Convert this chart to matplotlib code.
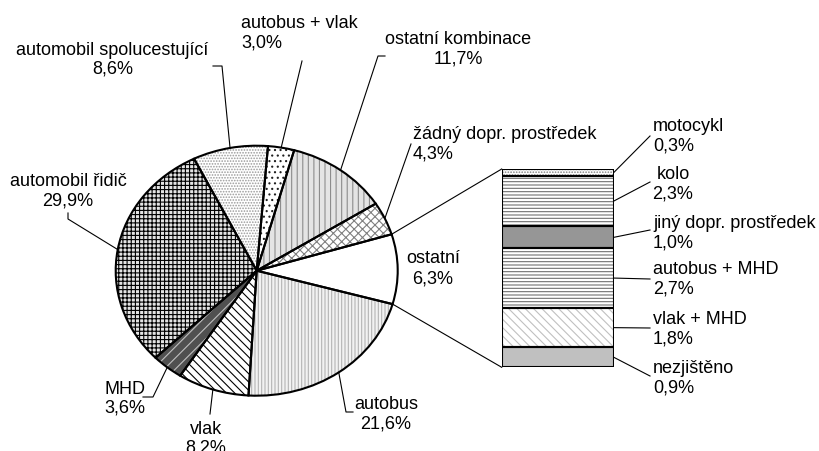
import matplotlib
matplotlib.use("Agg")
import matplotlib.pyplot as plt
import numpy as np

plt.rcParams['font.family'] = ['Liberation Sans', 'DejaVu Sans']
plt.rcParams['hatch.linewidth'] = 0.8

# ---- data ----
pie_labels = ['ostatní', 'žádný dopr. prostředek', 'ostatní kombinace', 'autobus + vlak',
              'automobil spolucestující', 'automobil řidič', 'MHD', 'vlak', 'autobus']
pie_pct = [6.3, 4.3, 11.7, 3.0, 8.6, 29.9, 3.6, 8.2, 21.6]

bar_labels = ['motocykl', 'kolo', 'jiný dopr. prostředek', 'autobus + MHD', 'vlak + MHD', 'nezjištěno']
bar_values = [0.3, 2.3, 1.0, 2.7, 1.8, 0.9]

# the "ostatní" wedge is drawn with the size of the detail bar
pie_sizes = [sum(bar_values)] + pie_pct[1:]

# ---- styles ----
pie_face = ['white', 'white', '#e4e4e4', 'white', 'white', '#e4e4e4', '#505050', 'white', '#f2f2f2']
pie_hatch = [None, 'xxxx', '|||', '...', '......', '++++', '///', '\\\\\\\\', '|||||']
pie_hcol = ['black', '#808080', '#8c8c8c', '#202020', '#9a9a9a', 'black', '#c0c0c0', 'black', '#b4b4b4']

bar_face = ['white', 'white', '#969696', 'white', 'white', '#c0c0c0']
bar_hatch = ['......', '-----', None, '-----', '\\\\\\\\', None]
bar_hcol = ['#808080', '#707070', 'black', '#707070', '#c0c0c0', 'black']

W, H = 819, 452
fig = plt.figure(figsize=(W / 100, H / 100), dpi=100)

def fig_rect(x0, y0, x1, y1):
    return [x0 / W, 1 - y1 / H, (x1 - x0) / W, (y1 - y0) / H]

# ---- pie ----
ax_pie = fig.add_axes(fig_rect(115.7, 146.7, 397.7, 396.7))
start = -15.5
wedges, _ = ax_pie.pie(pie_sizes, startangle=start, counterclock=True, radius=1,
                       wedgeprops=dict(linewidth=0))
for w, fc, h, hc in zip(wedges, pie_face, pie_hatch, pie_hcol):
    w.set_facecolor(fc)
    w.set_edgecolor(hc)
    w.set_linewidth(0)
    if h:
        w.set_hatch(h)
ax_pie.pie(pie_sizes, startangle=start, counterclock=True, radius=1,
           wedgeprops=dict(fill=False, edgecolor='black', linewidth=1.5))
ax_pie.set_xlim(-1, 1)
ax_pie.set_ylim(-1, 1)
ax_pie.set_aspect('auto')
ax_pie.axis('off')

# ---- bar ----
ax_bar = fig.add_axes(fig_rect(501.7, 170, 614, 368.3))
total_bar = sum(bar_values)
tops = np.cumsum([0] + bar_values[:-1])
bottoms = [total_bar - t - v for t, v in zip(tops, bar_values)]
bars = ax_bar.bar([0] * len(bar_values), bar_values, bottom=bottoms, width=1.0, linewidth=0)
for b, fc, h, hc in zip(bars, bar_face, bar_hatch, bar_hcol):
    b.set_facecolor(fc)
    b.set_edgecolor(hc)
    b.set_linewidth(0)
    if h:
        b.set_hatch(h)
ax_bar.bar([0] * len(bar_values), bar_values, bottom=bottoms, width=1.0,
           fill=False, edgecolor='black', linewidth=1.5)
ax_bar.set_xlim(-0.5, 0.5)
ax_bar.set_ylim(0, total_bar)
ax_bar.axis('off')

# ---- overlay for text and leaders (pixel coords) ----
ov = fig.add_axes([0, 0, 1, 1])
ov.set_xlim(0, W)
ov.set_ylim(H, 0)
ov.axis('off')
inv = ov.transData.inverted()

def pie_pt(angle_deg, r=1.0):
    a = np.deg2rad(angle_deg)
    return inv.transform(ax_pie.transData.transform((r * np.cos(a), r * np.sin(a))))

def bar_pt(x, y):
    return inv.transform(ax_bar.transData.transform((x, y)))

tot = sum(pie_sizes)
edges = start + 360 * np.cumsum([0] + pie_sizes) / tot
mids = (edges[:-1] + edges[1:]) / 2

# connectors between pie and bar
for ang, by in [(edges[1], total_bar), (edges[0], 0)]:
    p = pie_pt(ang)
    q = bar_pt(-0.5, by)
    ov.plot([p[0], q[0]], [p[1], q[1]], color='black', lw=0.8)

FS = 13
def fmt(v):
    return f"{v:.1f}".replace('.', ',') + '%'

# label layout: (x, baseline1, baseline2, ha, leader waypoints)
pie_layout = [
    (433, 263, 284, 'center', None),
    (413, 139, 159, 'left', [(411, 145)]),
    (458, 44, 64, 'center', [(385, 57), (378, 57)]),
    (241, 28, 47, 'left', [(302, 62)]),
    (112.5, 55, 74, 'center', [(213, 67), (222, 67)]),
    (68, 186, 206, 'center', [(68, 214), (68, 220)]),
    (125, 394, 413, 'center', [(143, 398), (153, 398)]),
    (206, 434, 453, 'center', [(210, 415)]),
    (386, 409, 429, 'center', [(353, 413), (346, 413)]),
]
for lab, pct, mid, (x, b1, b2, ha, lead) in zip(pie_labels, pie_pct, mids, pie_layout):
    ov.text(x, b1, lab, ha=ha, va='baseline', fontsize=FS)
    ov.text(x, b2, fmt(pct), ha=ha, va='baseline', fontsize=FS)
    if lead:
        p = pie_pt(mid)
        xs = [pt[0] for pt in lead] + [p[0]]
        ys = [pt[1] for pt in lead] + [p[1]]
        ov.plot(xs, ys, color='black', lw=0.8)

bar_layout = [
    (653, 131, 151, 'left', 137),
    (673, 179, 199, 'center', 183),
    (653, 228, 248, 'left', 231),
    (653, 274, 294, 'left', 280),
    (653, 324, 344, 'left', 329),
    (653, 373, 393, 'left', 377),
]
for lab, v, bot, (x, b1, b2, ha, ly) in zip(bar_labels, bar_values, bottoms, bar_layout):
    ov.text(x, b1, lab, ha=ha, va='baseline', fontsize=FS)
    ov.text(x, b2, fmt(v), ha=ha, va='baseline', fontsize=FS)
    p = bar_pt(0.5, bot + v / 2)
    ov.plot([p[0], 650], [p[1], ly], color='black', lw=0.8)

fig.savefig('out.png', dpi=100)
